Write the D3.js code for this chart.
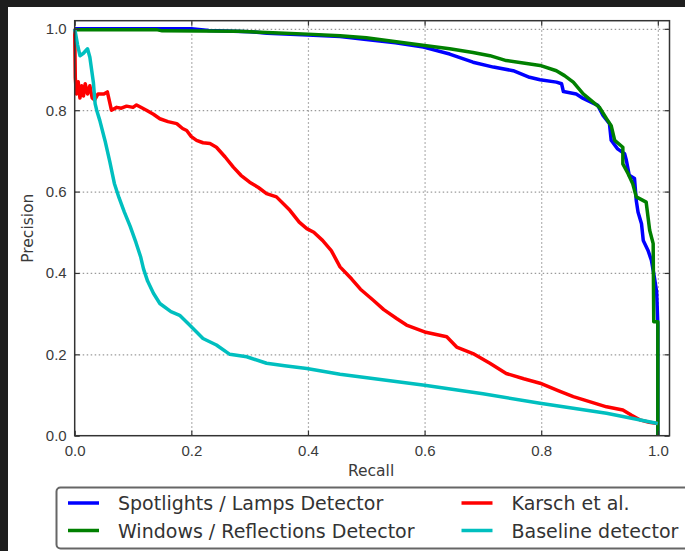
<!DOCTYPE html>
<html>
<head>
<meta charset="utf-8">
<script src="https://cdn.jsdelivr.net/npm/d3@7"></script>
<style>
  html, body { margin: 0; padding: 0; background: #1e1e1e; }
  svg { display: block; font-family: "DejaVu Sans", sans-serif; }
</style>
</head>
<body>
<svg id="chart" width="685" height="551"></svg>
<script>
// Precision / recall points: [recall, precision]
const spotlights = [
  [0, 1.0], [0.2, 1.0], [0.23, 0.996], [0.3, 0.993], [0.33, 0.989], [0.4, 0.985],
  [0.455, 0.981], [0.5, 0.974], [0.55, 0.966], [0.598, 0.955], [0.643, 0.938],
  [0.683, 0.918], [0.718, 0.906], [0.752, 0.897], [0.78, 0.881], [0.798, 0.875],
  [0.826, 0.869], [0.835, 0.865], [0.838, 0.846], [0.86, 0.84], [0.872, 0.829],
  [0.897, 0.812], [0.906, 0.787], [0.917, 0.767], [0.92, 0.726], [0.931, 0.705],
  [0.943, 0.693], [0.946, 0.677], [0.951, 0.64], [0.96, 0.632], [0.963, 0.578],
  [0.966, 0.55], [0.972, 0.521], [0.975, 0.48], [0.983, 0.456], [0.989, 0.431],
  [0.994, 0.39], [0.998, 0.353], [1.0, 0.272], [1.0, 0.0]
];
const windows = [
  [0, 0.998], [0.14, 0.998], [0.15, 0.995], [0.28, 0.994], [0.35, 0.99], [0.4, 0.987],
  [0.455, 0.983], [0.5, 0.978], [0.558, 0.967], [0.6, 0.959], [0.643, 0.951],
  [0.683, 0.942], [0.712, 0.934], [0.74, 0.922], [0.775, 0.915], [0.798, 0.91],
  [0.826, 0.897], [0.84, 0.885], [0.855, 0.869], [0.872, 0.84], [0.889, 0.82],
  [0.9, 0.807], [0.912, 0.779], [0.92, 0.762], [0.926, 0.726], [0.94, 0.709],
  [0.94, 0.668], [0.949, 0.644], [0.957, 0.619], [0.963, 0.587], [0.98, 0.574],
  [0.986, 0.505], [0.992, 0.472], [0.993, 0.28], [1.0, 0.28], [1.0, 0.0]
];
const karsch = [
  [0, 1.0], [0.001, 0.88], [0.003, 0.84], [0.006, 0.87], [0.009, 0.83], [0.012, 0.86],
  [0.015, 0.835], [0.018, 0.865], [0.022, 0.84], [0.026, 0.86], [0.03, 0.83],
  [0.034, 0.825], [0.04, 0.84], [0.05, 0.84], [0.056, 0.845], [0.063, 0.8],
  [0.072, 0.807], [0.08, 0.805], [0.089, 0.81], [0.1, 0.807], [0.106, 0.813],
  [0.115, 0.806], [0.123, 0.8], [0.135, 0.79], [0.146, 0.779], [0.16, 0.772],
  [0.175, 0.767], [0.185, 0.755], [0.192, 0.75], [0.2, 0.735], [0.209, 0.726],
  [0.22, 0.72], [0.232, 0.718], [0.243, 0.709], [0.258, 0.685], [0.272, 0.66],
  [0.285, 0.64], [0.3, 0.623], [0.315, 0.61], [0.329, 0.595], [0.346, 0.587],
  [0.369, 0.554], [0.385, 0.525], [0.398, 0.509], [0.41, 0.5], [0.425, 0.48],
  [0.44, 0.455], [0.455, 0.415], [0.475, 0.385], [0.49, 0.36], [0.512, 0.333],
  [0.53, 0.31], [0.552, 0.288], [0.569, 0.272], [0.6, 0.255], [0.638, 0.243],
  [0.655, 0.218], [0.683, 0.202], [0.712, 0.178], [0.74, 0.153], [0.77, 0.14],
  [0.798, 0.129], [0.83, 0.11], [0.855, 0.096], [0.912, 0.071], [0.94, 0.063],
  [0.955, 0.05], [0.969, 0.039], [0.985, 0.033], [1.0, 0.03]
];
const baseline = [
  [0, 1.0], [0.005, 0.96], [0.009, 0.934], [0.015, 0.94], [0.022, 0.951], [0.026, 0.93],
  [0.032, 0.869], [0.035, 0.816], [0.0377, 0.8], [0.043, 0.775], [0.052, 0.725],
  [0.06, 0.675], [0.068, 0.62], [0.076, 0.585], [0.085, 0.55], [0.095, 0.515],
  [0.105, 0.475], [0.113, 0.44], [0.118, 0.41], [0.125, 0.38], [0.135, 0.35], [0.146, 0.325],
  [0.165, 0.305], [0.18, 0.296], [0.197, 0.272], [0.22, 0.239], [0.243, 0.223],
  [0.266, 0.2], [0.295, 0.194], [0.329, 0.178], [0.36, 0.172], [0.398, 0.165],
  [0.455, 0.151], [0.6, 0.124], [0.7, 0.103], [0.798, 0.08], [0.912, 0.055], [1.0, 0.03]
];

const seriesNames = ["Spotlights / Lamps Detector", "Windows / Reflections Detector",
                     "Karsch et al.", "Baseline detector"];
const seriesColors = ["#0000ff", "#008000", "#ff0000", "#00bfbf"];
const tickValues = [0, 0.2, 0.4, 0.6, 0.8, 1.0];

const svg = d3.select("#chart");
const W = 685, H = 551;

// dark frame + white canvas
svg.append("rect").attr("width", W).attr("height", H).attr("fill", "#1e1e1e");
svg.append("rect").attr("x", 8).attr("y", 7).attr("width", W - 8).attr("height", H - 7).attr("fill", "#fff");

const pLeft = 74.7, pRight = 669.5, pTop = 20.7, pBottom = 435.7;
const x = d3.scaleLinear().domain([0, 1.02]).range([pLeft, pRight]);
const y = d3.scaleLinear().domain([0, 1.02]).range([pBottom, pTop]);
const fmt = d3.format(".1f");

// grid (dotted)
const grid = svg.append("g").attr("class", "grid");
grid.append("g").attr("transform", `translate(0,${pBottom})`)
  .call(d3.axisBottom(x).tickValues(tickValues.slice(1)).tickSize(-(pBottom - pTop)).tickFormat(""));
grid.append("g").attr("transform", `translate(${pLeft},0)`)
  .call(d3.axisLeft(y).tickValues(tickValues.slice(1)).tickSize(-(pRight - pLeft)).tickFormat(""));
grid.selectAll(".domain").remove();
grid.selectAll("line").attr("stroke", "#9a9a9a").attr("stroke-width", 1.2).attr("stroke-dasharray", "1.5,2.5");

// curves
const line = d3.line().x(d => x(d[0])).y(d => y(d[1]));
[spotlights, windows, karsch, baseline].forEach((s, i) => {
  svg.append("path").datum(s)
    .attr("d", line)
    .attr("fill", "none")
    .attr("stroke", seriesColors[i])
    .attr("stroke-width", 3.5)
    .attr("stroke-linejoin", "round");
});

// axes, ticks pointing inward on all four sides
function styleAxis(g, withText) {
  g.select(".domain").remove();
  g.selectAll("line").attr("stroke", "#333").attr("stroke-width", 1.2);
  g.selectAll("text").attr("fill", "#3a3a3a").style("font-size", "15px");
  if (!withText) g.selectAll("text").remove();
}
svg.append("g").attr("transform", `translate(0,${pBottom})`)
  .call(d3.axisBottom(x).tickValues(tickValues).tickSizeInner(-5).tickSizeOuter(0).tickPadding(10).tickFormat(fmt))
  .call(g => styleAxis(g, true));
svg.append("g").attr("transform", `translate(0,${pTop})`)
  .call(d3.axisTop(x).tickValues(tickValues).tickSizeInner(-5).tickSizeOuter(0))
  .call(g => styleAxis(g, false));
svg.append("g").attr("transform", `translate(${pLeft},0)`)
  .call(d3.axisLeft(y).tickValues(tickValues).tickSizeInner(-5).tickSizeOuter(0).tickPadding(8).tickFormat(fmt))
  .call(g => styleAxis(g, true));
svg.append("g").attr("transform", `translate(${pRight},0)`)
  .call(d3.axisRight(y).tickValues(tickValues).tickSizeInner(-5).tickSizeOuter(0))
  .call(g => styleAxis(g, false));

// frame
svg.append("rect")
  .attr("x", pLeft).attr("y", pTop)
  .attr("width", pRight - pLeft).attr("height", pBottom - pTop)
  .attr("fill", "none").attr("stroke", "#333").attr("stroke-width", 1.5);

// axis titles
svg.append("text").attr("x", (pLeft + pRight) / 2 - 1).attr("y", 476)
  .attr("text-anchor", "middle").attr("fill", "#3a3a3a").style("font-size", "15.5px").text("Recall");
svg.append("text").attr("transform", `translate(33,${(pTop + pBottom) / 2}) rotate(-90)`)
  .attr("text-anchor", "middle").attr("fill", "#3a3a3a").style("font-size", "15.5px").text("Precision");

// legend, two columns
const legend = svg.append("g");
legend.append("rect").attr("x", 56.5).attr("y", 487.5).attr("width", 650).attr("height", 61)
  .attr("rx", 4).attr("fill", "#fff").attr("stroke", "#666").attr("stroke-width", 2);
const colX = [68, 461.5], rowY = [503, 530.5];
seriesNames.forEach((name, i) => {
  const c = Math.floor(i / 2), r = i % 2;
  legend.append("line")
    .attr("x1", colX[c]).attr("x2", colX[c] + 31)
    .attr("y1", rowY[r]).attr("y2", rowY[r])
    .attr("stroke", seriesColors[i]).attr("stroke-width", 3.5);
  legend.append("text")
    .attr("x", colX[c] + 50).attr("y", rowY[r] + 7)
    .attr("fill", "#333").style("font-size", "19px").text(name);
});
</script>
</body>
</html>
